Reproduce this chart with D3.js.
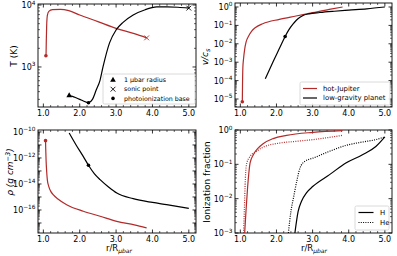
<!DOCTYPE html>
<html><head><meta charset="utf-8">
<script src="https://cdn.jsdelivr.net/npm/d3@7"></script>
<style>body{margin:0;background:#fff} svg{display:block} text{font-family:"DejaVu Sans",sans-serif;fill:#000}</style>
</head><body><svg id="c" width="397" height="256"></svg>
<script>
// ---------- data ----------
const xTicks = [1, 2, 3, 4, 5];
const xTickLabels = ["1.0", "2.0", "3.0", "4.0", "5.0"];

// Temperature (K)
const tRedX = [1.07, 1.075, 1.08, 1.09, 1.11, 1.15, 1.25, 1.47, 1.7, 2.0, 2.5, 3.0, 3.5, 3.84];
const tRedY = [1520, 1700, 2500, 4500, 6800, 7900, 8400, 8500, 8100, 6900, 5400, 4200, 3450, 2950];
const tBlkX = [1.71, 1.8, 1.9, 2.0, 2.1, 2.24, 2.35, 2.45, 2.56, 2.64, 2.82, 3.0, 3.2, 3.47, 3.8, 4.12, 4.4, 4.7, 5.0];
const tBlkY = [345, 335, 318, 300, 282, 265, 300, 420, 615, 1000, 2450, 3960, 5300, 6900, 8400, 9300, 9350, 9200, 8900];
const tTicks = [1e3, 1e4];

// v / c_s (log10)
const vRedX = [1.055, 1.06, 1.07, 1.09, 1.12, 1.16, 1.23, 1.32, 1.41, 1.62, 2.08, 2.54, 3.0, 3.46, 3.83];
const vRedL = [-5.15, -4.3, -3.3, -2.8, -2.3, -1.9, -1.58, -1.3, -1.13, -0.91, -0.67, -0.49, -0.31, -0.13, 0.0];
const vBlkX = [1.69, 1.9, 2.1, 2.24, 2.35, 2.45, 2.55, 2.65, 2.75, 2.9, 3.2, 3.6, 4.0, 4.5, 5.0];
const vBlkL = [-3.9, -3.0, -2.18, -1.6, -1.22, -0.95, -0.72, -0.56, -0.45, -0.37, -0.3, -0.23, -0.17, -0.1, 0.0];
const vTicks = [1e0, 1e-1, 1e-2, 1e-3, 1e-4, 1e-5];

// density (log10 g cm^-3)
const rRedX = [1.06, 1.065, 1.075, 1.09, 1.11, 1.15, 1.2, 1.27, 1.4, 1.64, 2.1, 2.56, 3.02, 3.5, 3.84];
const rRedL = [-10.67, -11.3, -12.2, -13.0, -13.7, -14.2, -14.55, -14.82, -15.15, -15.59, -16.1, -16.48, -16.87, -17.15, -17.38];
const rBlkX = [1.71, 1.9, 2.1, 2.24, 2.4, 2.56, 2.8, 3.02, 3.47, 4.0, 4.39, 5.0];
const rBlkL = [-10.08, -11.0, -11.9, -12.56, -13.2, -13.67, -14.25, -14.7, -15.13, -15.42, -15.59, -15.87];
const rTicks = [1e-10, 1e-12, 1e-14, 1e-16];

// ionization fraction (log10)
const iRedHX = [1.12, 1.156, 1.2, 1.27, 1.36, 1.5, 1.63, 1.91, 2.28, 3.01, 3.83];
const iRedHL = [-3.0, -2.37, -1.69, -0.96, -0.72, -0.52, -0.40, -0.25, -0.155, -0.068, -0.02];
const iRedHeX = [1.09, 1.11, 1.14, 1.18, 1.27, 1.45, 1.63, 2.09, 2.55, 3.01, 3.83];
const iRedHeL = [-3.0, -2.37, -1.4, -0.96, -0.77, -0.62, -0.5, -0.38, -0.33, -0.28, -0.155];
const iBlkHX = [2.51, 2.6, 2.69, 2.83, 3.01, 3.47, 3.92, 4.38, 4.75, 5.0];
const iBlkHL = [-3.0, -2.37, -2.08, -1.83, -1.64, -1.30, -0.96, -0.72, -0.48, -0.2];
const iBlkHeX = [2.33, 2.4, 2.47, 2.56, 2.65, 2.79, 3.01, 3.47, 3.92, 4.38, 4.75, 5.0];
const iBlkHeL = [-3.0, -2.37, -1.98, -1.5, -1.11, -0.91, -0.82, -0.62, -0.45, -0.35, -0.28, -0.2];
const iTicks = [1e0, 1e-1, 1e-2, 1e-3];

const legendMarkers = ["1 \u03bcbar radius", "sonic point", "photoionization base"];
const legendPlanets = ["hot-Jupiter", "low-gravity planet"];
const legendSpecies = ["H", "He"];

// ---------- drawing ----------
const RED = "#b22a2a";
const svg = d3.select("#c");
const pw = (xs, ys) => xs.map((x, i) => [x, ys[i]]);
const pl = (xs, ls) => xs.map((x, i) => [x, Math.pow(10, ls[i])]);
let clipN = 0;

function panel(o) {
  const x = d3.scaleLinear().domain([0.8525, 5.1975]).range([o.l, o.r]);
  const y = d3.scaleLog().domain(o.yd).range([o.b, o.t]);
  const g = svg.append("g");
  const id = "clip" + (clipN++);
  svg.append("clipPath").attr("id", id).append("rect")
    .attr("x", o.l).attr("y", o.t).attr("width", o.r - o.l).attr("height", o.b - o.t);
  const xMinor = d3.range(1, 5.2, 0.2).filter(v => xTicks.every(t => Math.abs(t - v) > 1e-6));
  xTicks.forEach((t, i) => {
    const px = x(t);
    g.append("line").attr("x1", px).attr("x2", px).attr("y1", o.b).attr("y2", o.b - 3.5).attr("stroke", "#000").attr("stroke-width", 0.8);
    g.append("line").attr("x1", px).attr("x2", px).attr("y1", o.t).attr("y2", o.t + 3.5).attr("stroke", "#000").attr("stroke-width", 0.8);
    g.append("text").attr("x", px).attr("y", o.b + 8.8).attr("text-anchor", "middle").attr("font-size", 8).text(xTickLabels[i]);
  });
  xMinor.forEach(t => {
    const px = x(t);
    if (px < o.l || px > o.r) return;
    g.append("line").attr("x1", px).attr("x2", px).attr("y1", o.b).attr("y2", o.b - 2).attr("stroke", "#000").attr("stroke-width", 0.6);
    g.append("line").attr("x1", px).attr("x2", px).attr("y1", o.t).attr("y2", o.t + 2).attr("stroke", "#000").attr("stroke-width", 0.6);
  });
  const [lo, hi] = o.yd;
  for (let e = Math.floor(Math.log10(lo)); e <= Math.ceil(Math.log10(hi)); e++) {
    for (let m = 1; m <= 9; m++) {
      const v = m * Math.pow(10, e);
      if (v < lo || v > hi) continue;
      const py = y(v);
      const major = m === 1;
      const len = major ? 3.5 : 2;
      const sw = major ? 0.8 : 0.6;
      g.append("line").attr("x1", o.l).attr("x2", o.l + len).attr("y1", py).attr("y2", py).attr("stroke", "#000").attr("stroke-width", sw);
      g.append("line").attr("x1", o.r).attr("x2", o.r - len).attr("y1", py).attr("y2", py).attr("stroke", "#000").attr("stroke-width", sw);
    }
  }
  o.yTicks.forEach(t => {
    const py = y(t);
    const e = Math.round(Math.log10(t));
    const tx = g.append("text").attr("x", o.l - 2.5).attr("y", py + 3).attr("text-anchor", "end").attr("font-size", 8);
    tx.append("tspan").text("10");
    tx.append("tspan").attr("dy", -3.5).attr("font-size", 5.8).text(String(e).replace("-", "\u2212"));
  });
  g.append("rect").attr("x", o.l).attr("y", o.t).attr("width", o.r - o.l).attr("height", o.b - o.t)
    .attr("fill", "none").attr("stroke", "#000").attr("stroke-width", 0.9);
  const line = d3.line().x(d => x(d[0])).y(d => y(d[1])).curve(d3.curveMonotoneX);
  const cg = svg.append("g").attr("clip-path", `url(#${id})`);
  o.series.forEach(s => {
    cg.append("path").attr("d", line(s.d)).attr("fill", "none").attr("stroke", s.c)
      .attr("stroke-width", 1.2).attr("stroke-dasharray", s.dash || null);
  });
  (o.markers || []).forEach(m => marker(svg, x(m.x), y(m.y), m.k, m.c));
  return { x, y };
}

function marker(sel, px, py, k, c) {
  if (k === "tri") {
    sel.append("path").attr("d", d3.symbol(d3.symbolTriangle, 14)()).attr("transform", `translate(${px},${py})`).attr("fill", c);
  } else if (k === "x") {
    const s = 2.4;
    sel.append("path").attr("d", `M${px - s},${py - s}L${px + s},${py + s}M${px - s},${py + s}L${px + s},${py - s}`)
      .attr("stroke", c).attr("stroke-width", 0.9).attr("fill", "none");
  } else {
    sel.append("circle").attr("cx", px).attr("cy", py).attr("r", 1.8).attr("fill", c);
  }
}

panel({ l: 38, r: 196, t: 4, b: 107, yd: [226, 10380], yTicks: tTicks,
  series: [{ d: pw(tRedX, tRedY), c: RED }, { d: pw(tBlkX, tBlkY), c: "#000" }],
  markers: [
    { x: tRedX[0], y: tRedY[0], k: "dot", c: RED },
    { x: tRedX[tRedX.length - 1], y: tRedY[tRedY.length - 1], k: "x", c: RED },
    { x: tBlkX[0], y: tBlkY[0], k: "tri", c: "#000" },
    { x: 2.24, y: 265, k: "dot", c: "#000" },
    { x: tBlkX[tBlkX.length - 1], y: tBlkY[tBlkY.length - 1], k: "x", c: "#000" }
  ] });

panel({ l: 235, r: 392, t: 3, b: 107, yd: [Math.pow(10, -5.435), Math.pow(10, 0.217)], yTicks: vTicks,
  series: [{ d: pl(vRedX, vRedL), c: RED }, { d: pl(vBlkX, vBlkL), c: "#000" }],
  markers: [
    { x: vRedX[0], y: Math.pow(10, vRedL[0]), k: "dot", c: RED },
    { x: 2.24, y: Math.pow(10, -1.6), k: "dot", c: "#000" }
  ] });

panel({ l: 38, r: 196, t: 130, b: 233, yd: [Math.pow(10, -17.77), Math.pow(10, -9.85)], yTicks: rTicks,
  series: [{ d: pl(rRedX, rRedL), c: RED }, { d: pl(rBlkX, rBlkL), c: "#000" }],
  markers: [
    { x: rRedX[0], y: Math.pow(10, rRedL[0]), k: "dot", c: RED },
    { x: 2.24, y: Math.pow(10, -12.56), k: "dot", c: "#000" }
  ] });

panel({ l: 235, r: 392, t: 130, b: 233, yd: [1e-3, 1], yTicks: iTicks,
  series: [
    { d: pl(iRedHX, iRedHL), c: RED },
    { d: pl(iRedHeX, iRedHeL), c: RED, dash: "1,1.3" },
    { d: pl(iBlkHX, iBlkHL), c: "#000" },
    { d: pl(iBlkHeX, iBlkHeL), c: "#000", dash: "1,1.3" }
  ] });

function ylab(x, y, build) {
  const t = svg.append("text").attr("transform", `translate(${x},${y}) rotate(-90)`).attr("text-anchor", "middle").attr("font-size", 9);
  build(t);
}
ylab(17, 56, t => t.text("T (K)"));
ylab(208, 57, t => {
  t.append("tspan").attr("font-style", "italic").text("v/c");
  t.append("tspan").attr("font-style", "italic").attr("font-size", 6.5).attr("dy", 2).text("s");
});
ylab(13, 172, t => {
  t.append("tspan").attr("font-style", "italic").text("\u03c1 (g cm");
  t.append("tspan").attr("font-style", "italic").attr("font-size", 6.5).attr("dy", -3.5).text("\u22123");
  t.append("tspan").attr("font-style", "italic").attr("dy", 3.5).text(")");
});
ylab(210, 182, t => t.text("Ionization fraction"));
function xlab(cx) {
  const t = svg.append("text").attr("x", cx).attr("y", 251).attr("text-anchor", "middle").attr("font-size", 8.5);
  t.append("tspan").text("r/R");
  t.append("tspan").attr("font-style", "italic").attr("font-size", 6).attr("dy", 2).text("\u03bcbar");
}
xlab(119);
xlab(314);

function legendBox(x0, y0, w, h) {
  svg.append("rect").attr("x", x0).attr("y", y0).attr("width", w).attr("height", h).attr("rx", 1.5)
    .attr("fill", "#fff").attr("fill-opacity", 0.85).attr("stroke", "#d0d0d0").attr("stroke-width", 0.8);
}
legendBox(103, 74, 92, 30);
const mk = ["tri", "x", "dot"];
legendMarkers.forEach((s, i) => {
  const yy = 80 + i * 9.2;
  marker(svg, 113, yy, mk[i], "#000");
  svg.append("text").attr("x", 124).attr("y", yy + 2.2).attr("font-size", 6.3).text(s);
});
legendBox(300, 82, 90, 23);
legendPlanets.forEach((s, i) => {
  const yy = 88.5 + i * 9.5;
  svg.append("line").attr("x1", 303).attr("x2", 317).attr("y1", yy).attr("y2", yy).attr("stroke", i ? "#000" : RED).attr("stroke-width", 1.2);
  svg.append("text").attr("x", 323).attr("y", yy + 2.3).attr("font-size", 6.9).text(s);
});
legendBox(355, 206, 34, 24);
legendSpecies.forEach((s, i) => {
  const yy = 212.5 + i * 10;
  svg.append("line").attr("x1", 358.5).attr("x2", 373.5).attr("y1", yy).attr("y2", yy).attr("stroke", "#000").attr("stroke-width", 1.2)
    .attr("stroke-dasharray", i ? "1,1.3" : null);
  svg.append("text").attr("x", 380).attr("y", yy + 2.3).attr("font-size", 6.9).text(s);
});
</script></body></html>
